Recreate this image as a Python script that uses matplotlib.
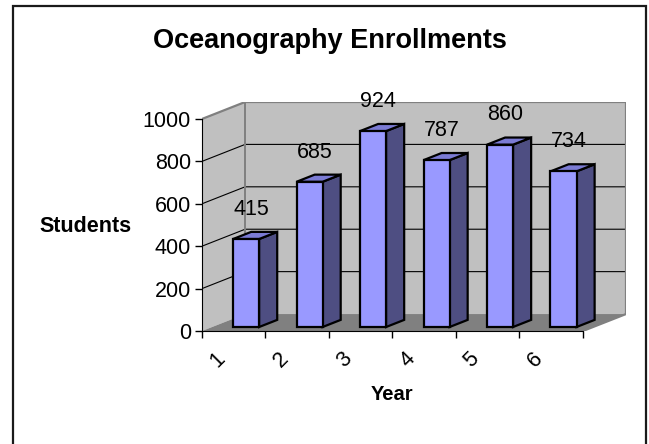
#!/usr/bin/env python3

# imports
import matplotlib
matplotlib.use('Agg')
import matplotlib.pyplot as plt
from matplotlib.patches import Polygon, Rectangle

plt.rcParams['font.family'] = ['Liberation Sans', 'DejaVu Sans']

# chart data
years = ['1', '2', '3', '4', '5', '6']
students = [415, 685, 924, 787, 860, 734]
y_ticks = [0, 200, 400, 600, 800, 1000]

# fake 3d: depth offset in data units
DX = 0.679
DY = 80
ymax = 1000
n = len(years)

def proj(x, v, d):
    return (x + d * DX, v + d * DY)

fig = plt.figure(figsize=(6.49, 4.44), dpi=100)
ax = fig.add_axes([202/649, (444-331)/444, (626-202)/649, (331-102)/444])
ax.set_xlim(0, n + DX)
ax.set_ylim(0, ymax + DY)
ax.patch.set_visible(False)

wall = '#c0c0c0'
edge = '#808080'

# back wall, left wall, floor
ax.add_patch(Polygon([proj(0, 0, 1), proj(n, 0, 1), proj(n, ymax, 1), proj(0, ymax, 1)],
                     closed=True, facecolor=wall, edgecolor='none', zorder=1))
ax.add_patch(Polygon([proj(0, 0, 0), proj(0, 0, 1), proj(0, ymax, 1), proj(0, ymax, 0)],
                     closed=True, facecolor=wall, edgecolor='none', zorder=1))
ax.add_patch(Polygon([proj(0, 0, 0), proj(n, 0, 0), proj(n, 0, 1), proj(0, 0, 1)],
                     closed=True, facecolor=edge, edgecolor='none', zorder=2))

# gridlines
for v in y_ticks[1:-1]:
    p0, p1, p2 = proj(0, v, 0), proj(0, v, 1), proj(n, v, 1)
    ax.plot([p0[0], p1[0], p2[0]], [p0[1], p1[1], p2[1]], color='black', lw=0.8, zorder=1.5)

# wall outlines
pts = [proj(0, ymax, 0), proj(0, ymax, 1), proj(n, ymax, 1), proj(n, 0, 1), proj(n, 0, 0)]
ax.plot([p[0] for p in pts], [p[1] for p in pts], color=edge, lw=1.6, zorder=2.5)
pts = [proj(0, 0, 1), proj(0, ymax, 1)]
ax.plot([p[0] for p in pts], [p[1] for p in pts], color=edge, lw=1.4, zorder=1.6)

# bars
x_off, width = 0.33, 0.41
d0, d1 = 0.235, 0.655
front_c, top_c, side_c = '#9999ff', '#7b7bd4', '#4e4e82'
for i, v in enumerate(students):
    xl = i + x_off
    xr = xl + width
    front = [proj(xl, 0, d0), proj(xr, 0, d0), proj(xr, v, d0), proj(xl, v, d0)]
    top = [proj(xl, v, d0), proj(xr, v, d0), proj(xr, v, d1), proj(xl, v, d1)]
    side = [proj(xr, 0, d0), proj(xr, 0, d1), proj(xr, v, d1), proj(xr, v, d0)]
    for poly, c in [(side, side_c), (top, top_c), (front, front_c)]:
        ax.add_patch(Polygon(poly, closed=True, facecolor=c, edgecolor='black',
                             lw=1.6, joinstyle='miter', zorder=3))
    lx, ly = proj(xl + width / 2, v, 0.35)
    ax.annotate(str(v), (lx, ly), xytext=(0, 20), textcoords='offset points',
                ha='center', va='center', fontsize=15.5, zorder=4)

# axes
for s in ['top', 'right']:
    ax.spines[s].set_visible(False)
ax.spines['left'].set_bounds(0, ymax)
ax.spines['bottom'].set_bounds(0, n)
ax.spines['left'].set_zorder(5)
ax.spines['bottom'].set_zorder(5)
ax.set_yticks(y_ticks)
ax.set_yticklabels([str(t) for t in y_ticks], fontsize=15.5)
ax.tick_params(axis='y', length=5, width=1, pad=3)
ax.set_xticks(range(n + 1))
ax.set_xticklabels([])
ax.tick_params(axis='x', length=5, width=1)
for i, lab in enumerate(years):
    ax.annotate(lab, (i + 0.25, 0), xytext=(0, -21), textcoords='offset points',
                ha='center', va='center', rotation=45, fontsize=15.5)

# titles
fig.text(0.508, (444-48)/444, 'Oceanography Enrollments', ha='center', va='baseline',
         fontsize=19.5, fontweight='bold')
fig.text(86/649, (444-232)/444, 'Students', ha='center', va='baseline',
         fontsize=15.5, fontweight='bold')
fig.text(392/649, (444-400)/444, 'Year', ha='center', va='baseline',
         fontsize=14.5, fontweight='bold')

# chart border
fig.patches.append(Rectangle((13/649, -0.05), (646-13)/649, (444-6)/444 + 0.05,
                             transform=fig.transFigure, fill=False,
                             edgecolor='#1a1a1a', lw=1.6))

plt.savefig('out.png', dpi=100)
